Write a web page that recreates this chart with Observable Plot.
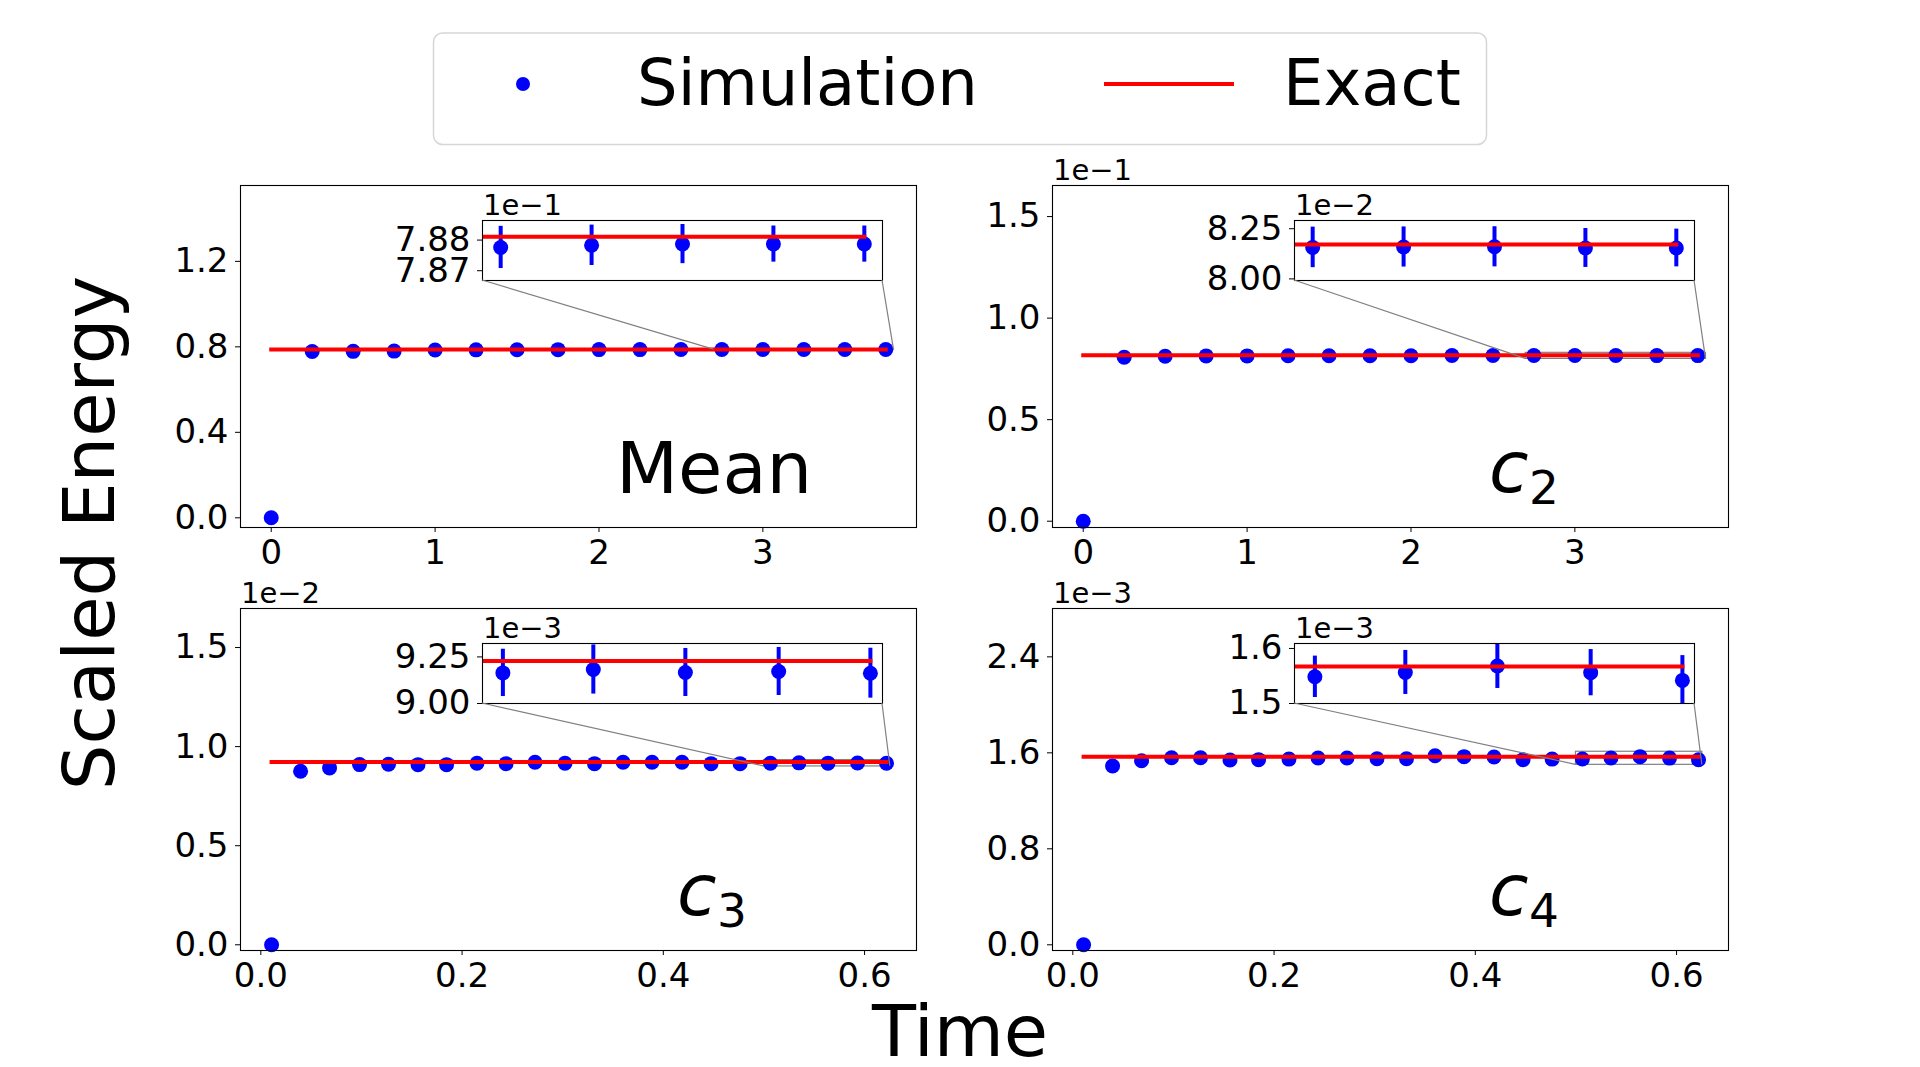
<!DOCTYPE html>
<html><head><meta charset="utf-8">
<script src="https://cdn.jsdelivr.net/npm/d3@7"></script>
<script src="https://cdn.jsdelivr.net/npm/@observablehq/plot@0.6"></script>
<style>
html,body{margin:0;padding:0;background:#fff;}
#root{position:relative;width:1920px;height:1067px;overflow:hidden;background:#fff;font-family:"DejaVu Sans";}
#root svg{position:absolute;overflow:visible;}
</style></head><body><div id="root"></div>
<script>
// ---------- data ----------
const timesTop = [0, 0.25, 0.5, 0.75, 1.0, 1.25, 1.5, 1.75, 2.0, 2.25, 2.5, 2.75, 3.0, 3.25, 3.5, 3.75];
const timesBottom = [0.0107, 0.0395, 0.0683, 0.0981, 0.1269, 0.1562, 0.1846, 0.2148, 0.2437, 0.2725, 0.3023,
  0.3316, 0.3600, 0.3888, 0.4186, 0.4474, 0.4763, 0.5064, 0.5348, 0.5637, 0.5930, 0.6218];

const meanSim = [0, 0.7785, 0.7790, 0.7800, 0.7850, 0.7860, 0.7865, 0.7868, 0.7870, 0.7872, 0.7874,
  0.78776, 0.78783, 0.78787, 0.78787, 0.78787];
const meanExact = 0.78811;
const meanErr = [0.00069, 0.00066, 0.00064, 0.00059, 0.00059];

const c2Sim = [0, 0.0807, 0.0812, 0.0814, 0.0814, 0.0815, 0.0815, 0.0815, 0.0815, 0.0816, 0.0816,
  0.08157, 0.08159, 0.08160, 0.08154, 0.08154];
const c2Exact = 0.08172;
const c2Err = [0.00101, 0.00100, 0.00100, 0.00097, 0.00094];

const c3Sim = [0, 0.008757, 0.008925, 0.009094, 0.00911, 0.00909, 0.00909, 0.00916, 0.00914, 0.00921, 0.00916,
  0.00914, 0.00921, 0.00921, 0.00921, 0.00914, 0.00914, 0.0091643, 0.0091825, 0.0091664, 0.0091718, 0.0091627];
const c3Exact = 0.0092286;
const c3Err = [0.000127, 0.000132, 0.000129, 0.000129, 0.000134];

const c4Sim = [0, 0.001490, 0.001534, 0.001559, 0.001559, 0.001540, 0.001543, 0.001548, 0.0015565, 0.0015565, 0.001551,
  0.001551, 0.001576, 0.001568, 0.001565, 0.001543, 0.001548, 0.0015485, 0.0015564, 0.001568, 0.001556, 0.001542];
const c4Exact = 0.001567;
const c4Err = [0.0000376, 0.0000400, 0.0000407, 0.0000420, 0.0000450];

const xTicksTop = [0, 1, 2, 3];
const xTicksBottom = [0, 0.2, 0.4, 0.6];
const meanYTicks = [0, 0.4, 0.8, 1.2];
const c2YTicks = [0, 0.05, 0.10, 0.15];
const c3YTicks = [0, 0.005, 0.010, 0.015];
const c4YTicks = [0, 0.0008, 0.0016, 0.0024];

const insetXTop = [2.7, 3.8];
const insetXBottom = [0.5, 0.6256];
const meanInsetY = [0.78668, 0.78864], meanInsetTicks = [0.787, 0.788];
const c2InsetY = [0.07992, 0.08291], c2InsetTicks = [0.08, 0.0825];
const c3InsetY = [0.009, 0.009322], c3InsetTicks = [0.009, 0.00925];
const c4InsetY = [0.0015, 0.001609], c4InsetTicks = [0.0015, 0.0016];

const legendLabels = ["Simulation", "Exact"];
const xLabel = "Time", yLabel = "Scaled Energy";

// ---------- layout ----------
const FONT = "DejaVu Sans";
const root = document.getElementById("root");
const MAIN_W = 676, MAIN_H = 342, ML = 110, MR = 20, MT = 20, MB = 60;
const IN_W = 400, IN_H = 60, IN_DX = 242, IN_DY = 35, IML = 110, IMR = 6, IMT = 6, IMB = 6;
const style = {fontFamily: FONT, fontSize: "34px", color: "black", background: "transparent", overflow: "visible"};

const panels = [
  {left: 240, top: 185, times: timesTop, sim: meanSim, exact: meanExact, err: meanErr,
   xDomain: [-0.1875, 3.9375], xTicks: xTicksTop, xFmt: d => String(d),
   yDomain: [-0.0454, 1.555], yTicks: meanYTicks, yFmt: d => d.toFixed(1), offset: null,
   insetX: insetXTop, insetY: meanInsetY, insetTicks: meanInsetTicks, insetFmt: d => (d*10).toFixed(2), insetOffset: "1e\u22121",
   label: "Mean"},
  {left: 1052, top: 185, times: timesTop, sim: c2Sim, exact: c2Exact, err: c2Err,
   xDomain: [-0.1875, 3.9375], xTicks: xTicksTop, xFmt: d => String(d),
   yDomain: [-0.0031, 0.1653], yTicks: c2YTicks, yFmt: d => (d*10).toFixed(1), offset: "1e\u22121",
   insetX: insetXTop, insetY: c2InsetY, insetTicks: c2InsetTicks, insetFmt: d => (d*100).toFixed(2), insetOffset: "1e\u22122",
   label: "c", sub: "2"},
  {left: 240, top: 608, times: timesBottom, sim: c3Sim, exact: c3Exact, err: c3Err,
   xDomain: [-0.0202, 0.6516], xTicks: xTicksBottom, xFmt: d => d.toFixed(1),
   yDomain: [-0.000288, 0.01697], yTicks: c3YTicks, yFmt: d => (d*100).toFixed(1), offset: "1e\u22122",
   insetX: insetXBottom, insetY: c3InsetY, insetTicks: c3InsetTicks, insetFmt: d => (d*1000).toFixed(2), insetOffset: "1e\u22123",
   label: "c", sub: "3"},
  {left: 1052, top: 608, times: timesBottom, sim: c4Sim, exact: c4Exact, err: c4Err,
   xDomain: [-0.0202, 0.6516], xTicks: xTicksBottom, xFmt: d => d.toFixed(1),
   yDomain: [-0.0000475, 0.002803], yTicks: c4YTicks, yFmt: d => (d*1000).toFixed(1), offset: "1e\u22123",
   insetX: insetXBottom, insetY: c4InsetY, insetTicks: c4InsetTicks, insetFmt: d => (d*1000).toFixed(1), insetOffset: "1e\u22123",
   label: "c", sub: "4"}
];

function place(svg, left, top) {
  svg.style.left = left + "px"; svg.style.top = top + "px";
  root.appendChild(svg);
}

const connectorSegs = [];

for (const p of panels) {
  const data = p.times.map((t, i) => ({t, v: p.sim[i]}));
  const n = p.times.length, k = p.err.length;
  const exactLine = [{t: p.times[0], v: p.exact}, {t: p.times[n - 1], v: p.exact}];
  const errData = p.err.map((e, j) => ({t: p.times[n - k + j], lo: p.sim[n - k + j] - e, hi: p.sim[n - k + j] + e}));
  const zoomBox = [{x1: p.insetX[0], x2: p.insetX[1], y1: p.insetY[0], y2: p.insetY[1]}];

  const main = Plot.plot({
    width: MAIN_W + ML + MR, height: MAIN_H + MT + MB,
    marginLeft: ML, marginRight: MR, marginTop: MT, marginBottom: MB,
    style,
    x: {domain: p.xDomain, ticks: p.xTicks, tickFormat: p.xFmt, tickSize: 5, tickPadding: 7, label: null},
    y: {domain: p.yDomain, ticks: p.yTicks, tickFormat: p.yFmt, tickSize: 5, tickPadding: 7, label: null},
    marks: [
      Plot.rect(zoomBox, {x1: "x1", x2: "x2", y1: "y1", y2: "y2", fill: "none", stroke: "#808080", strokeWidth: 1.2}),
      Plot.dot(data, {x: "t", y: "v", r: 7.5, fill: "blue"}),
      Plot.line(exactLine, {x: "t", y: "v", stroke: "red", strokeWidth: 4, strokeLinecap: "square"}),
      Plot.frame({stroke: "black", strokeWidth: 1.1})
    ]
  });
  const mainLeft = p.left - ML, mainTop = p.top - MT;
  place(main, mainLeft, mainTop);

  const inset = Plot.plot({
    width: IN_W + IML + IMR, height: IN_H + IMT + IMB,
    marginLeft: IML, marginRight: IMR, marginTop: IMT, marginBottom: IMB,
    style,
    x: {domain: p.insetX, axis: null},
    y: {domain: p.insetY, ticks: p.insetTicks, tickFormat: p.insetFmt, tickSize: 5, tickPadding: 7, label: null},
    marks: [
      Plot.frame({fill: "white"}),
      Plot.ruleX(errData, {x: "t", y1: "lo", y2: "hi", stroke: "blue", strokeWidth: 4, clip: true}),
      Plot.dot(data, {x: "t", y: "v", r: 7.5, fill: "blue", clip: true}),
      Plot.line(exactLine, {x: "t", y: "v", stroke: "red", strokeWidth: 4, strokeLinecap: "square", clip: true}),
      Plot.frame({stroke: "black", strokeWidth: 1.1})
    ]
  });
  const insetLeft = p.left + IN_DX - IML, insetTop = p.top + IN_DY - IMT;

  const xs = main.scale("x"), ys = main.scale("y");
  const ix = inset.scale("x"), iy = inset.scale("y");
  for (const xv of p.insetX) {
    connectorSegs.push({
      x1: insetLeft + ix.apply(xv), y1: insetTop + iy.apply(p.insetY[0]),
      x2: mainLeft + xs.apply(xv), y2: mainTop + ys.apply(p.insetY[0])
    });
  }
  place(inset, insetLeft, insetTop);
  p.insetLeftPx = insetLeft + IML; p.insetTopPx = insetTop + IMT;
}

// ---------- overlay: connectors, texts, legend ----------
const ov = d3.create("svg").attr("width", 1920).attr("height", 1067)
  .style("left", "0px").style("top", "0px").attr("font-family", FONT);

ov.selectAll("line.conn").data(connectorSegs).join("line")
  .attr("x1", d => d.x1).attr("y1", d => d.y1).attr("x2", d => d.x2).attr("y2", d => d.y2)
  .attr("stroke", "#808080").attr("stroke-width", 1.2);

for (const p of panels) {
  if (p.offset) ov.append("text").attr("x", p.left + 1).attr("y", p.top - 5).attr("font-size", 29).text(p.offset);
  ov.append("text").attr("x", p.insetLeftPx + 1).attr("y", p.insetTopPx - 5).attr("font-size", 29).text(p.insetOffset);
  if (p.sub) {
    ov.append("text").attr("x", p.left + 437).attr("y", p.top + 307).attr("font-size", 72)
      .attr("font-style", "italic").text(p.label);
    ov.append("text").attr("x", p.left + 477).attr("y", p.top + 319).attr("font-size", 47).text(p.sub);
  } else {
    ov.append("text").attr("x", p.left + 376).attr("y", p.top + 308).attr("font-size", 72).text(p.label);
  }
}

ov.append("text").attr("x", 960).attr("y", 1056).attr("font-size", 72).attr("text-anchor", "middle").text(xLabel);
ov.append("text").attr("transform", "translate(114,533) rotate(-90)").attr("font-size", 72)
  .attr("text-anchor", "middle").text(yLabel);

// legend
ov.append("rect").attr("x", 433.5).attr("y", 33).attr("width", 1053).attr("height", 111.5).attr("rx", 9)
  .attr("fill", "white").attr("stroke", "#d6d6d6").attr("stroke-width", 1.5);
ov.append("circle").attr("cx", 523).attr("cy", 84).attr("r", 7).attr("fill", "blue");
ov.append("text").attr("x", 637).attr("y", 105).attr("font-size", 64).text(legendLabels[0]);
ov.append("line").attr("x1", 1104).attr("x2", 1234).attr("y1", 84).attr("y2", 84)
  .attr("stroke", "red").attr("stroke-width", 4);
ov.append("text").attr("x", 1283).attr("y", 105).attr("font-size", 64).text(legendLabels[1]);

root.appendChild(ov.node());
ov.node().style.position = "absolute";
</script></body></html>
